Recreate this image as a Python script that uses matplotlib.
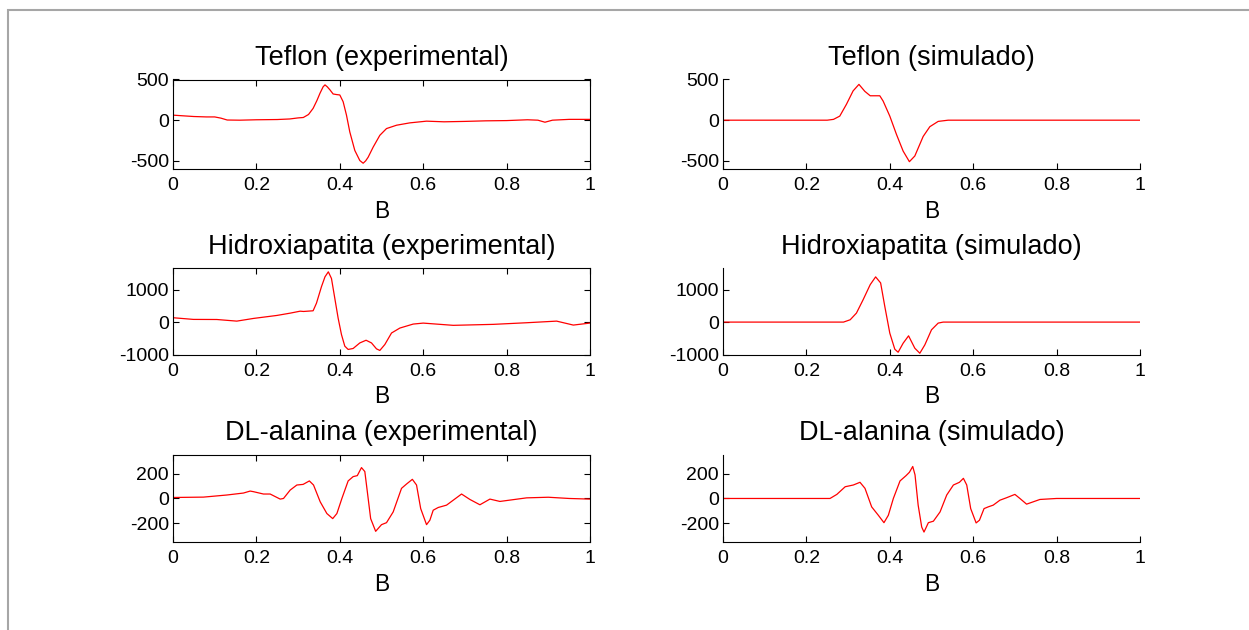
import matplotlib
matplotlib.use("Agg")
import matplotlib.pyplot as plt
from matplotlib.patches import Rectangle

plt.rcParams['font.family'] = ['Liberation Sans', 'DejaVu Sans']
plt.rcParams['axes.unicode_minus'] = False

# ---- Teflon (experimental) ----
tef_exp_b = [0, 0.02, 0.05, 0.08, 0.10, 0.115, 0.13, 0.16, 0.2, 0.25, 0.28, 0.30, 0.3125,
             0.325, 0.336, 0.345, 0.3525, 0.36, 0.3645, 0.37, 0.3765, 0.384, 0.392, 0.40,
             0.408, 0.416, 0.424, 0.436, 0.448, 0.456, 0.462, 0.468, 0.48, 0.496, 0.512,
             0.536, 0.568, 0.608, 0.65, 0.7, 0.75, 0.8, 0.85, 0.875, 0.892, 0.91, 0.95, 1.0]
tef_exp_y = [62, 55, 45, 40, 40, 25, 2, 0, 5, 8, 15, 28, 33,
             70, 145, 240, 331, 410, 434, 410, 372, 322, 315, 310,
             227, 62, -145, -372, -496, -529, -500, -455, -331, -186, -103,
             -62, -33, -12, -20, -15, -8, -5, 5, 0, -25, 0, 10, 10]

# ---- Teflon (simulado) ----
tef_sim_b = [0, 0.1, 0.2, 0.25, 0.265, 0.28, 0.296, 0.312, 0.326, 0.34, 0.353, 0.376,
             0.384, 0.40, 0.416, 0.432, 0.447, 0.46, 0.48, 0.496, 0.516, 0.54, 0.7, 0.85, 1.0]
tef_sim_y = [0, 0, 0, 0, 10, 50, 195, 360, 440, 355, 300, 300,
             235, 50, -175, -380, -510, -440, -200, -80, -15, 0, 0, 0, 0]

# ---- Hidroxiapatita (experimental) ----
hid_exp_b = [0, 0.049, 0.105, 0.153, 0.193, 0.249, 0.281, 0.305, 0.313, 0.336, 0.344,
             0.356, 0.3645, 0.3725, 0.38, 0.388, 0.396, 0.404, 0.412, 0.420, 0.432,
             0.448, 0.463, 0.476, 0.488, 0.496, 0.508, 0.524, 0.544, 0.576, 0.60,
             0.672, 0.768, 0.848, 0.92, 0.96, 1.0]
hid_exp_y = [135, 83, 80, 30, 113, 205, 276, 337, 328, 349, 582,
             1092, 1398, 1551, 1347, 735, 123, -385, -743, -844, -814,
             -643, -560, -643, -826, -875, -692, -337, -184, -61, -31,
             -100, -70, -20, 30, -92, -30]

# ---- Hidroxiapatita (simulado) ----
hid_sim_b = [0, 0.1, 0.2, 0.289, 0.305, 0.32, 0.336, 0.353, 0.366, 0.378, 0.388, 0.40,
             0.412, 0.42, 0.432, 0.445, 0.46, 0.472, 0.484, 0.50, 0.516, 0.528, 0.7, 0.85, 1.0]
hid_sim_y = [0, 0, 0, 0, 72, 278, 690, 1155, 1395, 1209, 484, -341,
             -837, -930, -651, -424, -806, -961, -703, -238, -31, 0, 0, 0, 0]

# ---- DL-alanina (experimental) ----
ala_exp_b = [0, 0.073, 0.129, 0.169, 0.185, 0.193, 0.217, 0.233, 0.257, 0.265, 0.281,
             0.297, 0.312, 0.327, 0.337, 0.353, 0.369, 0.383, 0.393, 0.405, 0.42,
             0.432, 0.442, 0.452, 0.46, 0.466, 0.474, 0.486, 0.50, 0.512, 0.528,
             0.548, 0.56, 0.574, 0.584, 0.594, 0.608, 0.616, 0.624, 0.636, 0.656,
             0.692, 0.712, 0.736, 0.76, 0.784, 0.848, 0.9, 0.95, 1.0]
ala_exp_y = [8, 11, 28, 44, 60, 55, 36, 36, -5, 0, 68,
             109, 114, 142, 109, -27, -122, -163, -122, 0, 142,
             177, 185, 250, 218, 55, -163, -266, -212, -196, -109,
             82, 117, 155, 109, -82, -212, -176, -95, -73, -54,
             36, -8, -51, -5, -24, 5, 10, 0, -5]

# ---- DL-alanina (simulado) ----
ala_sim_b = [0, 0.1, 0.2, 0.2566, 0.273, 0.293, 0.3125, 0.3285, 0.3405, 0.3565, 0.3725,
             0.386, 0.3965, 0.4085, 0.4245, 0.439, 0.447, 0.455, 0.4605, 0.468, 0.4765,
             0.482, 0.4925, 0.5045, 0.5205, 0.5365, 0.5525, 0.567, 0.5765, 0.5845, 0.594,
             0.607, 0.615, 0.626, 0.636, 0.648, 0.664, 0.680, 0.700, 0.712, 0.728,
             0.744, 0.760, 0.8, 0.9, 1.0]
ala_sim_y = [0, 0, 0, 0, 33, 95, 109, 131, 82, -68, -136,
             -196, -136, 0, 142, 185, 212, 259, 191, -54, -231,
             -272, -196, -184, -109, 28, 109, 131, 163, 109, -82,
             -198, -176, -82, -68, -54, -14, 6, 33, 0, -46,
             -27, -8, 0, 0, 0]

titles = [["Teflon (experimental)", "Teflon (simulado)"],
          ["Hidroxiapatita (experimental)", "Hidroxiapatita (simulado)"],
          ["DL-alanina (experimental)", "DL-alanina (simulado)"]]
series = [[(tef_exp_b, tef_exp_y), (tef_sim_b, tef_sim_y)],
          [(hid_exp_b, hid_exp_y), (hid_sim_b, hid_sim_y)],
          [(ala_exp_b, ala_exp_y), (ala_sim_b, ala_sim_y)]]
y_limits = [(-600, 500), (-1000, 1660), (-350, 352)]
y_ticks = [[-500, 0, 500], [-1000, 0, 1000], [-200, 0, 200]]
x_ticks = [0, 0.2, 0.4, 0.6, 0.8, 1]
x_tick_labels = ["0", "0.2", "0.4", "0.6", "0.8", "1"]

W, H = 1249, 630
fig = plt.figure(figsize=(W / 100, H / 100), dpi=100)

# light frame around the figure area
fig.patches.append(Rectangle((8 / W, -0.5), 2.0, (H - 10) / H + 0.5,
                             transform=fig.transFigure, fill=False,
                             edgecolor="#a6a6a6", linewidth=1.5))

col_left = [173, 723]
row_top = [79.5, 268.3, 455]
row_bot = [169, 354.5, 541.7]
ax_w = 417

for r in range(3):
    for c in range(2):
        ax = fig.add_axes([col_left[c] / W, 1 - row_bot[r] / H,
                           ax_w / W, (row_bot[r] - row_top[r]) / H])
        b, y = series[r][c]
        ax.plot(b, y, color="#ff0000", linewidth=0.9)
        ax.set_xlim(0, 1)
        ax.set_ylim(*y_limits[r])
        ax.set_xticks(x_ticks)
        ax.set_xticklabels(x_tick_labels)
        ax.set_yticks(y_ticks[r])
        ax.set_title(titles[r][c], fontsize=19.5, pad=10.5)
        ax.set_xlabel("B", fontsize=16.5, labelpad=4)
        boxed = (c == 0)
        ax.tick_params(direction="in", length=4, width=0.8, labelsize=14,
                       top=boxed, right=boxed)
        ax.tick_params(axis="x", pad=6)
        ax.tick_params(axis="y", pad=3)
        for side in ("top", "right"):
            ax.spines[side].set_visible(boxed)
        for sp in ax.spines.values():
            sp.set_linewidth(0.8)

fig.savefig("out.png", dpi=100)
